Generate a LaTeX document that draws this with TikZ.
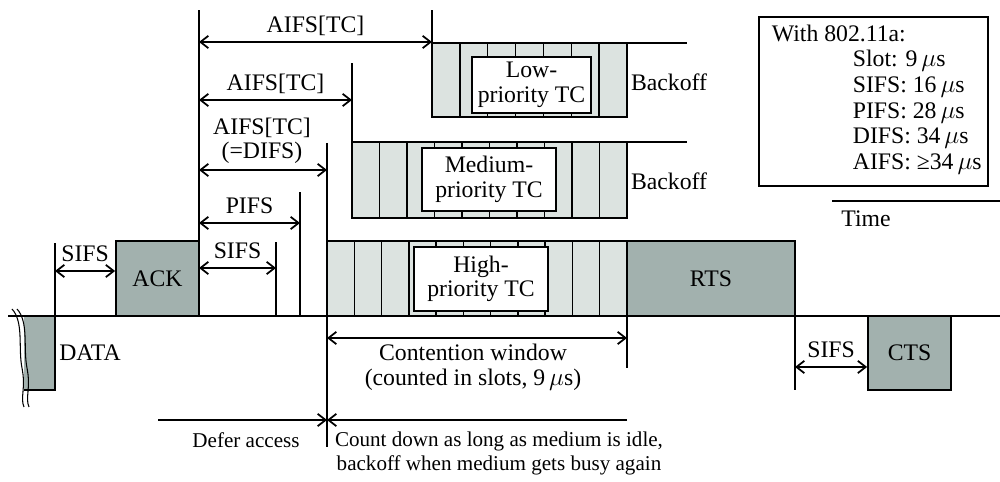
\documentclass[tikz,border=0pt]{standalone}
\usepackage{fontspec}
\setmainfont{Liberation Serif}
\usetikzlibrary{arrows.meta}
\definecolor{slotgray}{HTML}{DCE3E0}
\definecolor{framegray}{HTML}{A2B1AE}
\begin{document}
\begin{tikzpicture}[x=0.02cm, y=-0.02cm, line width=1pt,
        font=\fontsize{13.5}{14}\selectfont,
        >={Straight Barb[length=4.5pt,width=7pt]},
        frame/.style={draw, fill=framegray, inner sep=0pt},
        slotbar/.style={draw, fill=slotgray, line width=0.8pt},
        tcbox/.style={draw, fill=white, align=center, inner sep=0pt},
        lbl/.style={inner sep=0pt, align=center},
        note/.style={inner sep=0pt, align=center, font=\fontsize{12}{13.7}\selectfont},
        dimlbl/.style={midway, inner sep=0pt, anchor=base, yshift=5.5pt}]
\useasboundingbox (0,0) rectangle (1000,482);

% marks on the time axis
\coordinate (data end) at (55,316);
\coordinate (ack end) at (199,316);
\coordinate (sifs end) at (276,316);
\coordinate (pifs end) at (300,316);
\coordinate (difs end) at (327,316);
\coordinate (aifs mid) at (352,142);
\coordinate (aifs low) at (432,43);
\coordinate (cw end) at (627,316);
\coordinate (rts end) at (795,316);
\coordinate (defer start) at (158,420);

% backoff slots (high, medium, low)
\foreach \xa/\n/\ya/\yb in {327/11/241/316, 352/10/142/218, 432/7/43/117}{
    \draw[slotbar] (\xa,\ya) rectangle (627,\yb);
    \pgfmathtruncatemacro\m{\n-1}
    \foreach \i in {1,...,\m}
        \draw[line width=0.8pt] ({\xa+\i*(627-\xa)/\n},\ya) -- ({\xa+\i*(627-\xa)/\n},\yb);
}
\node[tcbox, minimum width=2.68cm, minimum height=1.28cm] (high) at (481,279) {High-\\priority TC};
\node[tcbox, minimum width=2.68cm, minimum height=1.26cm] (medium) at (489,179.5) {Medium-\\priority TC};
\node[tcbox, minimum width=2.38cm, minimum height=1.12cm] (low) at (531.5,85) {Low-\\priority TC};
\node[lbl] (backoff low) at (669,82) {Backoff};
\node[lbl] (backoff medium) at (669,181) {Backoff};

% frames
\node[frame, minimum width=1.66cm, minimum height=1.5cm] (ack) at (157.5,278.5) {ACK};
\node[frame, minimum width=3.36cm, minimum height=1.5cm] (rts) at (711,278.5) {RTS};
\node[frame, minimum width=1.66cm, minimum height=1.48cm] (cts) at (909.5,353) {CTS};

\fill[framegray] (24,316) rectangle (data end |- 0,390);
\draw (24,390) -- (data end |- 0,390) -- (data end);
\draw[line width=0.6pt] (12,309) .. controls (24,322) and (18,348) .. (22,368) .. controls (26,388) and (20,398) .. (24,407);
\draw[line width=0.6pt] (17,309) .. controls (29,322) and (23,348) .. (27,368) .. controls (31,388) and (25,398) .. (29,407);
\node[lbl] (data) at (90,353) {DATA};

% medium
\draw[line width=1.3pt] (8,316) -- (1000,316);
\draw (aifs mid) -- (687,142);
\draw (aifs low) -- (687,43);

\draw (data end) -- (data end |- 0,243);
\draw (ack end) -- (ack end |- 0,10);
\draw (sifs end) -- (sifs end |- 0,242);
\draw (pifs end) -- (pifs end |- 0,192);
\draw (difs end |- 0,143) -- (difs end |- 0,447);
\draw (aifs mid) -- (aifs mid |- 0,63);
\draw (aifs low) -- (aifs low |- 0,10);
\draw (cw end) -- (cw end |- 0,368);
\draw (rts end) -- (rts end |- 0,390);

% interframe spaces
\draw[<->] (data end |- 0,271) -- (ack.west |- 0,271) node[dimlbl] {SIFS};
\draw[<->] (ack end |- 0,42) -- (aifs low |- 0,42) node[dimlbl] {AIFS[TC]};
\draw[<->] (ack end |- 0,100) -- (aifs mid |- 0,100) node[dimlbl] {AIFS[TC]};
\draw[<->] (ack end |- 0,170) -- (difs end |- 0,170);
\node[lbl] (difs lbl) at (262,141) {AIFS[TC]\\(=DIFS)};
\draw[<->] (ack end |- 0,223) -- (pifs end |- 0,223) node[dimlbl] {PIFS};
\draw[<->] (ack end |- 0,268) -- (sifs end |- 0,268) node[dimlbl] {SIFS};
\draw[<->] (rts end |- 0,367) -- (cts.west |- 0,367) node[dimlbl] {SIFS};

\draw[<->] (difs end |- 0,338) -- (cw end |- 0,338);
\node[lbl] (cw lbl) at (473,367) {Contention window\\(counted in slots, 9\,$\mu$s)};

\draw[->] (defer start) -- (difs end |- defer start);
\draw[->] (cw end |- defer start) -- (difs end |- defer start);
\node[note] (defer lbl) at (246,440) {Defer access};
\node[note] (count lbl) at (499,453) {Count down as long as medium is idle,\\backoff when medium gets busy again};

% parameters
\node[draw, inner sep=0pt, minimum width=4.58cm, minimum height=3.38cm, anchor=north west] (info) at (758,16) {};
\node[lbl, anchor=west] (info head) at (771,33) {With 802.11a:};
\foreach \y/\t in {61/{Slot: 9\,$\mu$s}, 87/{SIFS: 16\,$\mu$s}, 113/{PIFS: 28\,$\mu$s},
        138/{DIFS: 34\,$\mu$s}, 164/{AIFS: ≥34\,$\mu$s}}
    \node[lbl, anchor=west] at (852,\y) {\t};

\draw (832,201) -- (1000,201);
\node[lbl] (time) at (866,219) {Time};
\end{tikzpicture}
\end{document}
